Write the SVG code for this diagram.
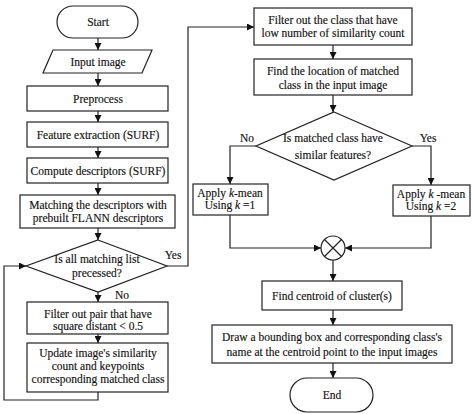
<svg xmlns="http://www.w3.org/2000/svg" width="474" height="414" viewBox="0 0 474 414">
<defs>
<marker id="ah" viewBox="0 0 10 10" refX="10" refY="5" markerWidth="7" markerHeight="7" markerUnits="userSpaceOnUse" orient="auto">
<path d="M0,0 L10,5 L0,10 z" fill="#111"/>
</marker>
<style>
.s{fill:#fff;stroke:#222;stroke-width:1.2}
.c{fill:none;stroke:#222;stroke-width:1.2}
.a{marker-end:url(#ah)}
text{font-family:"Liberation Serif","Times New Roman",serif;font-size:11.5px;fill:#111;stroke:#111;stroke-width:0.15;text-anchor:middle}
.i{font-style:italic}
</style>
</defs>
<rect width="474" height="414" fill="#fff"/>
<g id="connectors">
<path class="c a" d="M98,38 V50"/>
<path class="c a" d="M98,73 V86"/>
<path class="c a" d="M98,111 V122"/>
<path class="c a" d="M98,147 V158"/>
<path class="c a" d="M98,183 V195"/>
<path class="c a" d="M98,228 V240"/>
<path class="c a" d="M98,292 V302"/>
<path class="c a" d="M98,334 V343"/>
<path class="c a" d="M98,392 V400 H4 V266 H26"/>
<path class="c a" d="M167,266 H188 V27 H254"/>
<path class="c a" d="M333,45 V59"/>
<path class="c a" d="M333,95 V112"/>
<path class="c a" d="M256,146 H230 V184"/>
<path class="c a" d="M412,146 H431 V185"/>
<path class="c a" d="M230,215 V248 H321"/>
<path class="c a" d="M431,216 V248 H345"/>
<path class="c a" d="M333,260 V281"/>
<path class="c a" d="M333,310 V325"/>
<path class="c a" d="M333,363 V378"/>
<text x="173" y="259">Yes</text>
<text x="122" y="299">No</text>
<text x="247" y="142">No</text>
<text x="428" y="142">Yes</text>
</g>
<g id="start"><rect class="s" x="57" y="6" width="81" height="32" rx="16"/><text x="98" y="26">Start</text></g>
<g id="input"><path class="s" d="M53,50 H152 L142,73 H43 z"/><text x="98" y="65.5">Input image</text></g>
<g id="preprocess"><rect class="s" x="27" y="86" width="141" height="25"/><text x="98" y="102.5">Preprocess</text></g>
<g id="feature"><rect class="s" x="27" y="122" width="141" height="25"/><text x="98" y="138.5">Feature extraction (SURF)</text></g>
<g id="compute"><rect class="s" x="27" y="158" width="141" height="25"/><text x="98" y="174.5">Compute descriptors (SURF)</text></g>
<g id="matching"><rect class="s" x="20" y="195" width="155" height="33"/><text x="98" y="208.5">Matching the descriptors with</text><text x="98" y="222">prebuilt FLANN descriptors</text></g>
<g id="decision1"><path class="s" d="M98,240 L167,266 L98,292 L26,266 z"/><text x="97" y="262.5">Is all matching list</text><text x="97" y="276.5">precessed?</text></g>
<g id="filterpair"><rect class="s" x="27" y="302" width="141" height="32"/><text x="98" y="318">Filter out pair that have</text><text x="98" y="330">square distant &lt; 0.5</text></g>
<g id="update"><rect class="s" x="27" y="343" width="141" height="49"/><text x="98" y="357">Update image's similarity</text><text x="98" y="369.5">count and keypoints</text><text x="98" y="382.5">corresponding matched class</text></g>
<g id="filterclass"><rect class="s" x="254" y="8" width="158" height="37"/><text x="333" y="24">Filter out the class that have</text><text x="333" y="37">low number of similarity count</text></g>
<g id="findloc"><rect class="s" x="254" y="59" width="158" height="36"/><text x="333" y="75">Find the location of matched</text><text x="333" y="88.5">class in the input image</text></g>
<g id="decision2"><path class="s" d="M334,112 L412,146 L334,180 L256,146 z"/><text x="333" y="141.5">Is matched class have</text><text x="333" y="158.5">similar features?</text></g>
<g id="k1"><rect class="s" x="193" y="184" width="75" height="31"/><text x="230" y="197">Apply <tspan class="i">k</tspan>-mean</text><text x="230" y="208.5">Using  <tspan class="i">k</tspan> =1</text></g>
<g id="k2"><rect class="s" x="393" y="185" width="77" height="31"/><text x="431" y="198">Apply <tspan class="i">k</tspan> -mean</text><text x="431" y="209.5">Using  <tspan class="i">k</tspan> =2</text></g>
<g id="merge"><circle class="s" cx="333" cy="248" r="12"/><path class="c" d="M324.5,239.5 L341.5,256.5 M341.5,239.5 L324.5,256.5"/></g>
<g id="centroid"><rect class="s" x="262" y="281" width="140" height="29"/><text x="332" y="299.5">Find centroid of cluster(s)</text></g>
<g id="draw"><rect class="s" x="212" y="325" width="240" height="38"/><text x="332" y="341">Draw a bounding box and  corresponding class's</text><text x="332" y="355.5">name at the centroid point to the input images</text></g>
<g id="end"><rect class="s" x="290" y="378" width="83" height="34" rx="17"/><text x="332" y="399">End</text></g>
</svg>
